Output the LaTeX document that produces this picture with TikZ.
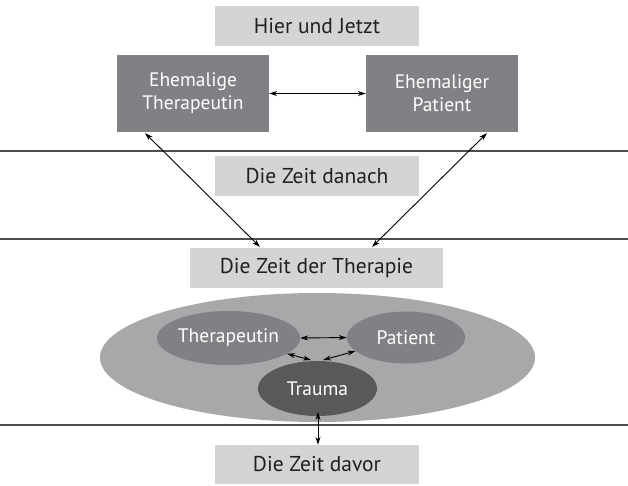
\documentclass[tikz,border=0pt]{standalone}
\usepackage{fontspec}
\setmainfont{PT Sans}
\usetikzlibrary{arrows.meta,shapes.geometric}
\definecolor{lightbox}{HTML}{D3D4D6}
\definecolor{darkbox}{HTML}{808184}
\definecolor{bigell}{HTML}{A7A8AA}
\definecolor{midell}{HTML}{808184}
\definecolor{darkell}{HTML}{58595B}
\definecolor{rule}{HTML}{4D4D4F}
\definecolor{txt}{HTML}{231F20}
\begin{document}
\begin{tikzpicture}[x=1pt,y=-1pt,
  lbl/.style={fill=lightbox,minimum width=204pt,minimum height=40pt,inner sep=0pt,font=\fontsize{21.5}{24}\selectfont,text=txt},
  dbox/.style={fill=darkbox,minimum width=152pt,minimum height=77pt,inner sep=0pt,align=center,font=\fontsize{19.5}{23}\selectfont,text=white},
  ell/.style={ellipse,inner sep=0pt,font=\fontsize{19.5}{23}\selectfont,text=white},
  hline/.style={draw=rule,line width=1.4pt},
  arr/.style={draw=black,line width=0.9pt,{Stealth[length=8pt,width=5pt]}-{Stealth[length=8pt,width=5pt]}}]
\useasboundingbox (0,0) rectangle (628,485);
% horizontal rules
\coordinate (l1a) at (0,151); \coordinate (l1b) at (628,151);
\coordinate (l2a) at (0,239); \coordinate (l2b) at (628,239);
\coordinate (l3a) at (0,425); \coordinate (l3b) at (628,425);
\draw[hline] (l1a) -- (l1b);
\draw[hline] (l2a) -- (l2b);
\draw[hline] (l3a) -- (l3b);
% labels
\node[lbl] (now) at (317,26) {Hier und Jetzt};
\node[lbl] (after) at (317,176) {Die Zeit danach};
\node[lbl,minimum width=253pt] (ther) at (316.5,268) {Die Zeit der Therapie};
\node[lbl,minimum width=204pt,minimum height=39pt] (before) at (317,464.5) {Die Zeit davor};
% dark boxes
\node[dbox] (exT) at (193,93.5) {Ehemalige\\Therapeutin};
\node[dbox] (exP) at (442,93.5) {Ehemaliger\\Patient};
\draw[arr] (exT.east) -- (exP.west);
% big ellipse
\node[ell,fill=bigell,minimum width=435pt,minimum height=129pt] (big) at (317.5,357.5) {};
\node[ell,fill=midell,minimum width=119pt,minimum height=54pt] (T) at (228.5,338) {Therapeutin};
\node[ell,fill=midell,minimum width=118pt,minimum height=52pt] (P) at (406,337.5) {Patient};
\node[ell,fill=darkell,minimum width=119pt,minimum height=55pt] (Tr) at (317.5,388.5) {Trauma};
\draw[arr] (T.east) -- (P.west);
\coordinate (tra) at (311,360);
\coordinate (trb) at (323,360);
\draw[arr] (T.-15) -- (tra);
\draw[arr] (P.195) -- (trb);
% diagonal arrows from therapy label to ex boxes
\coordinate (tl) at (145,133);
\coordinate (tr) at (487,133);
\coordinate (bl) at (260,247);
\coordinate (br) at (372,247);
\draw[arr] (tl) -- (bl);
\draw[arr] (tr) -- (br);
% vertical arrow
\coordinate (va) at (318,412);
\draw[arr] (va) -- (before.north -| va);
\end{tikzpicture}
\end{document}
